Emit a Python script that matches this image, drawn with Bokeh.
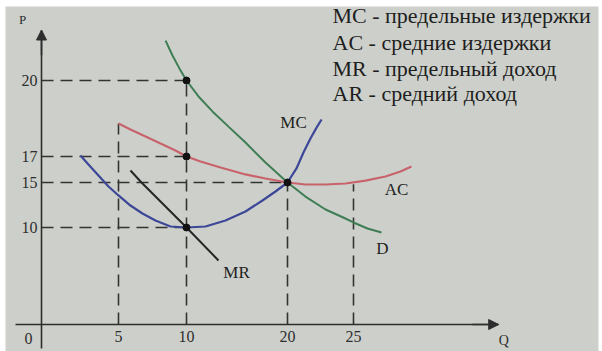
import numpy as np
from bokeh.plotting import figure
from bokeh.models import Range1d, LinearAxis, FixedTicker, Arrow, NormalHead
from bokeh.core.properties import value
from bokeh.embed import file_html
from bokeh.resources import INLINE

# ---------------- data (Q = quantity, P = price) ----------------
mc_q = [2.53, 3.05, 3.64, 4.35, 5.0, 5.88, 6.76, 7.72, 8.82, 10.0, 11.88, 13.86, 15.84,
        17.52, 18.81, 20.0, 20.68, 21.21, 21.74, 22.2, 22.58]
mc_p = [17.04, 16.38, 15.62, 14.56, 13.56, 12.44, 11.56, 10.78, 10.11, 10.0, 10.11, 10.78,
        11.78, 13.0, 14.0, 15.0, 16.08, 17.16, 17.71, 18.14, 18.46]

ac_q = [5.0, 5.88, 6.99, 8.09, 9.19, 10.0, 11.39, 13.37, 15.84, 17.82, 20.0, 21.36, 22.88,
        24.39, 25.91, 27.42, 28.56, 29.39]
ac_p = [18.30, 18.07, 17.79, 17.51, 17.24, 17.0, 16.62, 16.15, 15.62, 15.31, 15.0, 14.78,
        14.78, 14.89, 15.15, 15.46, 15.85, 16.23]

d_q = [8.46, 8.97, 9.49, 10.0, 11.19, 12.57, 14.16, 15.84, 17.82, 20.0, 21.36, 22.88,
       24.39, 25.0, 26.06, 27.12]
d_p = [21.58, 20.99, 20.47, 20.0, 19.37, 18.78, 18.18, 17.55, 16.54, 15.0, 13.44, 12.0,
       11.0, 10.56, 9.90, 9.48]

mr_q = [5.88, 6.69, 10.0, 13.17]
mr_p = [15.92, 15.0, 10.0, 6.60]

point_q = [10, 10, 10, 20]
point_p = [20, 17, 10, 15]

hguide_p = [20, 17, 15, 10]
hguide_qend = [10, 10, 20, 10]
vguide_q = [5, 10, 20, 25]
vguide_ptop = [18.3, 20, 15, 14.8]

x_ticks = [5, 10, 20, 25]
y_ticks = [10, 15, 17, 20]

legend_lines = ["MC - предельные издержки", "AC - средние издержки",
                "MR - предельный доход", "AR - средний доход"]

# ------------- schematic (hand-drawn) scale of the original figure -------------
QK = [-5, 0, 5, 10, 20, 25, 40]
XK = [-36, 41, 118, 186, 287, 353, 551]
PK = [-5, 0, 10, 15, 17, 20, 24]
YK = [372, 324, 227, 182, 156, 80, -21]


def sx(q):
    return np.interp(q, QK, XK)


def sy(pv):
    return np.interp(pv, PK, YK)


Q_MIN, Q_END = -1.7, 36.0
P_MIN, P_TOP = -2.5, 22.0

BG = "#cdd0ca"
INK = "#2e2e2e"
SERIF = "Liberation Serif"

W, H = 602, 351
BL, BT, BR = 5, 6, 4

p = figure(width=W, height=H, x_range=Range1d(BL, W - BR), y_range=Range1d(H, BT),
           output_backend="svg", toolbar_location=None,
           min_border_left=BL, min_border_top=BT, min_border_right=BR, min_border_bottom=0,
           x_axis_location=None, y_axis_location=None,
           background_fill_color=BG, border_fill_color="white", outline_line_color=None)
for g in p.grid:
    g.visible = False

# axes drawn at the origin of the schematic
xt = [int(round(float(sx(v)))) for v in x_ticks]
yt = [int(round(float(sy(v)))) for v in y_ticks]
xax = LinearAxis(fixed_location=float(sy(0)),
                 bounds=(float(sx(Q_MIN)), float(sx(Q_END))),
                 ticker=FixedTicker(ticks=xt),
                 major_label_overrides={t: str(v) for t, v in zip(xt, x_ticks)})
yax = LinearAxis(fixed_location=float(sx(0)),
                 bounds=(float(sy(P_TOP)), float(sy(P_MIN))),
                 ticker=FixedTicker(ticks=yt),
                 major_label_overrides={t: str(v) for t, v in zip(yt, y_ticks)})
for ax, standoff in ((xax, 6), (yax, 4)):
    ax.axis_line_color = INK
    ax.axis_line_width = 1.6
    ax.major_tick_line_color = None
    ax.minor_tick_line_color = None
    ax.major_tick_in = 0
    ax.major_tick_out = 0
    ax.major_label_standoff = standoff
    ax.major_label_text_font = SERIF
    ax.major_label_text_font_size = "16px"
    ax.major_label_text_color = INK
p.add_layout(xax, "below")
p.add_layout(yax, "left")

p.add_layout(Arrow(end=NormalHead(size=10, fill_color=INK, line_color=INK),
                   x_start=float(sx(0)), y_start=float(sy(P_TOP - 1)),
                   x_end=float(sx(0)), y_end=float(sy(P_TOP)),
                   line_color=INK, line_width=1.6))
p.add_layout(Arrow(end=NormalHead(size=10, fill_color=INK, line_color=INK),
                   x_start=float(sx(Q_END - 2)), y_start=float(sy(0)),
                   x_end=float(sx(Q_END)), y_end=float(sy(0)),
                   line_color=INK, line_width=1.6))

# dashed guides
p.segment(x0=sx([0] * len(hguide_p)), y0=sy(hguide_p), x1=sx(hguide_qend), y1=sy(hguide_p),
          line_color="#333333", line_width=1.6, line_dash="12 7")
p.segment(x0=sx(vguide_q), y0=sy([0] * len(vguide_q)), x1=sx(vguide_q), y1=sy(vguide_ptop),
          line_color="#333333", line_width=1.6, line_dash="12 7")

# curves
p.line(sx(ac_q), sy(ac_p), line_color="#c8636c", line_width=2.2)
p.line(sx(d_q), sy(d_p), line_color="#3f7d55", line_width=2.0)
p.line(sx(mc_q), sy(mc_p), line_color="#3c4897", line_width=2.2)
p.line(sx(mr_q), sy(mr_p), line_color="#262626", line_width=2.0)

p.scatter(sx(point_q), sy(point_p), size=7, color="#111111")

# curve labels
p.text(x=[293, 396, 382, 236], y=[122, 189, 248, 272], text=["MC", "AC", "D", "MR"],
       text_font=value(SERIF), text_font_size=value("17px"), text_color="#222222",
       text_align="center", text_baseline="middle")

# axis names and origin
p.text(x=[float(sx(0))], y=[float(sy(0))], text=["0"], x_offset=-13, y_offset=14,
       text_font=value(SERIF), text_font_size=value("16px"), text_color=INK,
       text_align="center", text_baseline="middle")
p.text(x=[float(sx(0))], y=[float(sy(P_TOP))], text=["P"], x_offset=-19, y_offset=-11,
       text_font=value(SERIF), text_font_size=value("13px"), text_color=INK,
       text_align="center", text_baseline="middle")
p.text(x=[float(sx(Q_END))], y=[float(sy(0))], text=["Q"], x_offset=5, y_offset=16,
       text_font=value(SERIF), text_font_size=value("14px"), text_color=INK,
       text_align="center", text_baseline="middle")

# explanation block
p.text(x=[332] * 4, y=[15, 42, 68, 93], text=legend_lines,
       text_font=value(SERIF), text_font_size=value("22px"), text_color="#1e1e1e",
       text_align="left", text_baseline="middle")

open("out.html", "w").write(file_html(p, INLINE))
